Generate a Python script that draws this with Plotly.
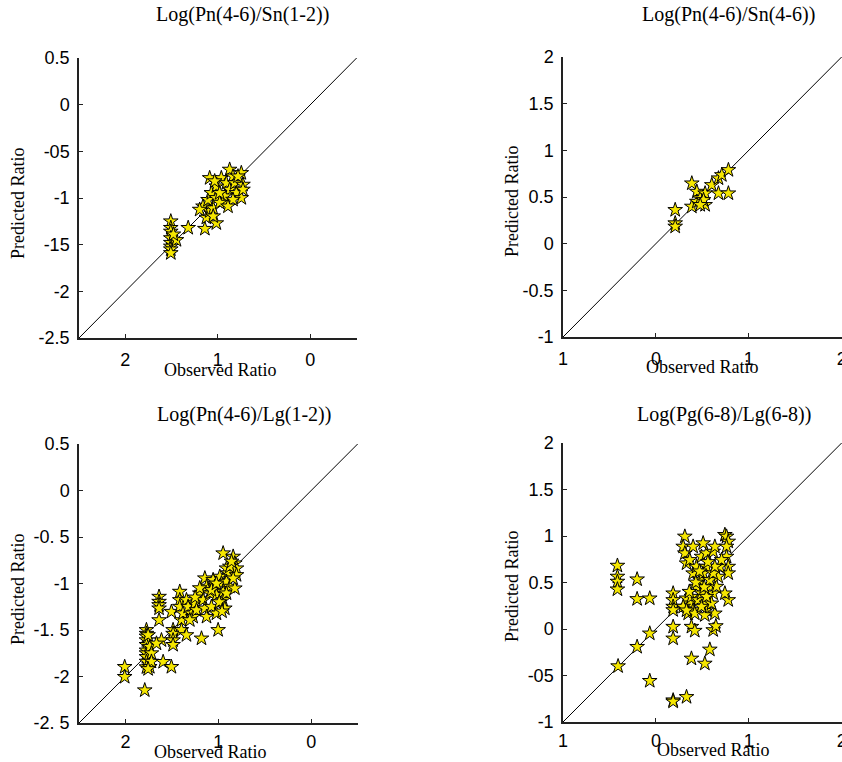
import plotly.graph_objects as go

# ---------------- data ----------------
titles = ["Log(Pn(4-6)/Sn(1-2))", "Log(Pn(4-6)/Sn(4-6))",
          "Log(Pn(4-6)/Lg(1-2))", "Log(Pg(6-8)/Lg(6-8))"]

# panel 1: Log(Pn(4-6)/Sn(1-2))
p1_x = [-1.508, -1.508, -1.508, -1.508, -1.508, -1.508, -1.508, -1.508, -1.447, -1.48,
        -1.32, -1.14, -1.016, -1.124, -1.088, -1.16, -1.05, -1.106, -1.07, -1.016,
        -1.088, -0.962, -1.016, -0.872, -0.836, -0.908, -0.872, -0.818, -0.80, -0.746,
        -0.728, -0.746, -0.728, -0.908, -0.926, -0.98, -0.836, -0.98, -1.034, -0.782,
        -0.89, -1.196, -1.05]
p1_y = [-1.25, -1.32, -1.36, -1.43, -1.48, -1.52, -1.55, -1.59, -1.45, -1.39,
        -1.32, -1.33, -1.27, -1.21, -1.14, -1.09, -1.11, -1.02, -0.946, -1.0,
        -0.786, -0.786, -0.875, -0.696, -0.768, -0.84, -0.91, -0.84, -0.946, -0.732,
        -0.857, -1.0, -0.91, -1.036, -0.982, -1.05, -1.018, -0.946, -0.82, -0.768,
        -1.09, -1.125, -1.196]

# panel 2: Log(Pn(4-6)/Sn(4-6))
p2_x = [0.208, 0.208, 0.208, 0.387, 0.441, 0.387, 0.441, 0.477, 0.53, 0.53,
        0.513, 0.602, 0.674, 0.71, 0.674, 0.781, 0.781, 0.477]
p2_y = [0.361, 0.219, 0.183, 0.646, 0.557, 0.397, 0.45, 0.486, 0.539, 0.415,
        0.468, 0.628, 0.70, 0.735, 0.539, 0.789, 0.539, 0.415]

# panel 3: Log(Pn(4-6)/Lg(1-2))
p3_x = [-2.008, -2.008, -1.792,
        -1.774, -1.774, -1.774, -1.774, -1.774, -1.774, -1.774, -1.774, -1.774, -1.774,
        -1.738, -1.72, -1.738, -1.72, -1.756, -1.756,
        -1.638, -1.638, -1.638, -1.638, -1.638,
        -1.594, -1.612, -1.666, -1.505, -1.505,
        -1.487, -1.487, -1.487, -1.487,
        -1.415, -1.415, -1.415, -1.397, -1.397, -1.38, -1.343,
        -1.343, -1.325, -1.289, -1.271, -1.253, -1.307, -1.235, -1.181,
        -1.199, -1.163, -1.145, -1.127, -1.145, -1.127, -1.09,
        -1.056, -1.038, -1.02, -1.074, -1.02, -1.002,
        -0.984, -0.966, -0.948, -0.948, -0.93, -0.948,
        -0.912, -0.894, -0.912, -0.876, -0.912,
        -0.84, -0.822, -0.804, -0.804, -0.822, -0.84, -0.876, -0.858,
        -1.074, -1.02, -1.2, -1.25, -0.99, -0.96]
p3_y = [-1.897, -2.004, -2.148,
        -1.50, -1.54, -1.57, -1.61, -1.66, -1.72, -1.75, -1.79, -1.84, -1.90,
        -1.68, -1.75, -1.897, -1.84, -1.555, -1.92,
        -1.142, -1.196, -1.232, -1.268, -1.394,
        -1.843, -1.61, -1.645, -1.897, -1.304,
        -1.50, -1.54, -1.61, -1.66,
        -1.088, -1.178, -1.25, -1.394, -1.50, -1.32, -1.555,
        -1.178, -1.25, -1.322, -1.358, -1.214, -1.394, -1.286, -1.591,
        -1.106, -1.178, -1.268, -1.358, -0.944, -1.034, -1.106,
        -0.962, -1.034, -1.124, -1.25, -1.322, -1.50,
        -0.926, -0.998, -1.088, -1.178, -1.268, -0.675,
        -0.837, -0.89, -0.98, -1.034, -1.106,
        -0.711, -0.783, -0.837, -0.909, -1.052, -0.945, -0.818, -0.764,
        -1.07, -1.0, -1.05, -1.15, -1.2, -1.3]

# panel 4: Log(Pg(6-8)/Lg(6-8))
p4_x = [-0.414, -0.414, -0.414, -0.414, -0.202, -0.202, -0.066,
        -0.407, -0.202, -0.066, -0.066, 0.186, 0.186, 0.33,
        0.186, 0.186, 0.186, 0.186, 0.186, 0.186,
        0.383, 0.527, 0.581, 0.383, 0.419, 0.617, 0.646,
        0.545, 0.635, 0.527,
        0.312, 0.294, 0.312, 0.33, 0.401, 0.509,
        0.365, 0.401, 0.437, 0.491, 0.545, 0.617, 0.635,
        0.743, 0.761, 0.779, 0.761, 0.761, 0.779, 0.779, 0.779, 0.743,
        0.33, 0.365, 0.348, 0.401, 0.437, 0.473, 0.509, 0.545, 0.581, 0.617, 0.653,
        0.581, 0.671, 0.689, 0.707,
        0.383, 0.455, 0.491, 0.545, 0.599, 0.419, 0.491, 0.545,
        0.294, 0.33, 0.617, 0.635, 0.47, 0.52, 0.56, 0.43, 0.36]
p4_y = [0.681, 0.563, 0.509, 0.426, 0.534, 0.322, 0.329,
        -0.40, -0.192, -0.048, -0.558, -0.767, -0.78, -0.731,
        0.383, 0.311, 0.24, 0.203, 0.024, -0.102,
        -0.318, -0.372, -0.221, 0.024, -0.019, -0.012, 0.031,
        0.203, 0.167, 0.149,
        0.994, 0.886, 0.814, 0.706, 0.886, 0.922,
        0.742, 0.599, 0.67, 0.778, 0.814, 0.832, 0.886,
        1.012, 0.994, 0.94, 0.886, 0.778, 0.67, 0.599, 0.311, 0.383,
        0.329, 0.275, 0.167, 0.203, 0.455, 0.527, 0.599, 0.67, 0.455, 0.383, 0.455,
        0.527, 0.563, 0.67, 0.742,
        0.347, 0.311, 0.383, 0.275, 0.275, 0.167, 0.24, 0.347,
        0.24, 0.2, 0.599, 0.67, 0.62, 0.45, 0.72, 0.5, 0.4]

xs = [p1_x, p2_x, p3_x, p4_x]
ys = [p1_y, p2_y, p3_y, p4_y]

ranges = [[-2.5, 0.5], [-1, 2], [-2.5, 0.5], [-1, 2]]

x_tickvals = [[-2, -1, 0], [-1, 0, 1, 2], [-2, -1, 0], [-1, 0, 1, 2]]
x_ticktext = [["2", "1", "0"], ["1", "0", "1", "2"], ["2", "1", "0"], ["1", "0", "1", "2"]]
y_tickvals = [[0.5, 0, -0.5, -1, -1.5, -2, -2.5],
              [2, 1.5, 1, 0.5, 0, -0.5, -1],
              [0.5, 0, -0.5, -1, -1.5, -2, -2.5],
              [2, 1.5, 1, 0.5, 0, -0.5, -1]]
y_ticktext = [["0.5", "0", "-05", "-1", "-15", "-2", "-2.5"],
              ["2", "1.5", "1", "0.5", "0", "-0.5", "-1"],
              ["0.5", "0", "-0. 5", "-1", "-1. 5", "-2", "-2. 5"],
              ["2", "1.5", "1", "0.5", "0", "-05", "-1"]]

x_label = "Observed Ratio"
y_label = "Predicted Ratio"

# ---------------- layout helpers ----------------
W, H = 842, 762
# plot areas in pixels: (left, right, top, bottom)
boxes = [(79, 357, 58, 338), (563, 842, 57, 337), (79, 358, 444, 723), (563, 842, 443, 722)]
title_pos = [(242, 15), (728, 15), (244, 415), (724, 415)]
xlab_pos = [(220, 370), (702, 367), (210, 752), (713, 750)]
ylab_pos = [(18, 204), (512, 202), (18, 590), (512, 587)]
x_standoff = [5, 5, 2, 2]

serif = "Liberation Serif"
sans = "Liberation Sans"

fig = go.Figure()
layout = dict(width=W, height=H, margin=dict(l=0, r=0, t=0, b=0),
              template="none", showlegend=False,
              paper_bgcolor="white", plot_bgcolor="white")
annotations = []

for i in range(4):
    sfx = "" if i == 0 else str(i + 1)
    l, r, t, b = boxes[i]
    rng = ranges[i]
    # diagonal reference line
    fig.add_trace(go.Scatter(x=rng, y=rng, mode="lines",
                             line=dict(color="black", width=1),
                             xaxis="x" + sfx, yaxis="y" + sfx, hoverinfo="skip",
                             cliponaxis=False))
    fig.add_trace(go.Scatter(x=xs[i], y=ys[i], mode="markers",
                             marker=dict(symbol="star", size=11, color="#f5e600",
                                         line=dict(color="black", width=1)),
                             xaxis="x" + sfx, yaxis="y" + sfx))
    common = dict(showgrid=False, zeroline=False, showline=True, linecolor="#222",
                  linewidth=1.5, ticks="inside", ticklen=4, tickcolor="#222",
                  tickmode="array", automargin=False, mirror=False,
                  ticklabeloverflow="allow",
                  tickfont=dict(family=sans, size=18, color="black"))
    layout["xaxis" + sfx] = dict(common, domain=[l / W, r / W],
                                 range=[rng[0], rng[1] + 0.004],
                                 anchor="y" + sfx, tickvals=x_tickvals[i],
                                 ticktext=x_ticktext[i], ticklabelstandoff=x_standoff[i])
    layout["yaxis" + sfx] = dict(common, domain=[1 - b / H, 1 - t / H], range=rng,
                                 anchor="x" + sfx, tickvals=y_tickvals[i],
                                 ticktext=y_ticktext[i], ticklabelstandoff=4)
    annotations.append(dict(text=titles[i], x=title_pos[i][0] / W, y=1 - title_pos[i][1] / H,
                            xref="paper", yref="paper", showarrow=False,
                            xanchor="center", yanchor="middle",
                            font=dict(family=serif, size=20, color="black")))
    annotations.append(dict(text=x_label, x=xlab_pos[i][0] / W, y=1 - xlab_pos[i][1] / H,
                            xref="paper", yref="paper", showarrow=False,
                            xanchor="center", yanchor="middle",
                            font=dict(family=serif, size=18, color="black")))
    annotations.append(dict(text=y_label, x=ylab_pos[i][0] / W, y=1 - ylab_pos[i][1] / H,
                            xref="paper", yref="paper", showarrow=False, textangle=-90,
                            xanchor="center", yanchor="middle",
                            font=dict(family=serif, size=18, color="black")))

layout["annotations"] = annotations
fig.update_layout(**layout)
fig.write_html("out.html")
